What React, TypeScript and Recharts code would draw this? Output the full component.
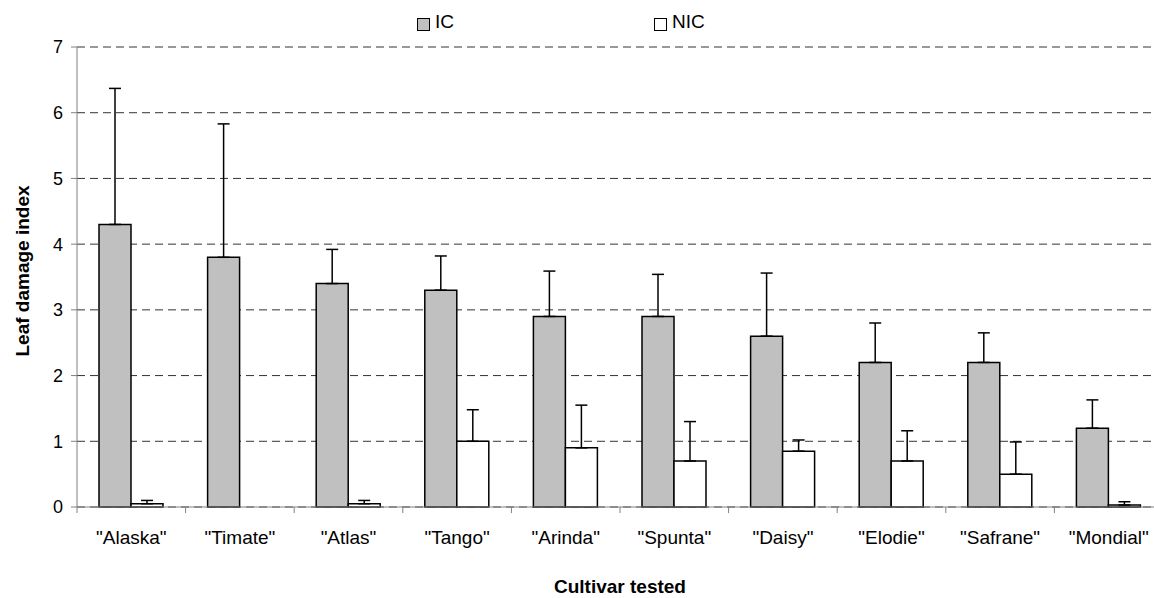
import React from "react";
import {
  BarChart,
  Bar,
  XAxis,
  YAxis,
  CartesianGrid,
  ErrorBar,
  Label,
} from "recharts";

const cultivars = [
  '"Alaska"',
  '"Timate"',
  '"Atlas"',
  '"Tango"',
  '"Arinda"',
  '"Spunta"',
  '"Daisy"',
  '"Elodie"',
  '"Safrane"',
  '"Mondial"',
];
const icMeans = [4.3, 3.8, 3.4, 3.3, 2.9, 2.9, 2.6, 2.2, 2.2, 1.2];
const icErrors = [2.07, 2.03, 0.52, 0.52, 0.69, 0.64, 0.96, 0.6, 0.45, 0.43];
const nicMeans = [0.05, 0, 0.05, 1.0, 0.9, 0.7, 0.85, 0.7, 0.5, 0.03];
const nicErrors = [0.05, 0, 0.05, 0.48, 0.65, 0.6, 0.17, 0.46, 0.49, 0.05];
const yTicks = [0, 1, 2, 3, 4, 5, 6, 7];

const rows = cultivars.map((name, i) => ({
  name,
  ic: icMeans[i],
  icErr: [0, icErrors[i]],
  nic: nicMeans[i],
  nicErr: [0, nicErrors[i]],
}));

const FONT = "'Liberation Sans', Arial, sans-serif";
const TICK_SIZE = 6;
const TICK_MARGIN = 18;

function CultivarTick(props: any) {
  const { x, y, payload } = props;
  const half = payload && payload.offset ? payload.offset : 54.3;
  const axisY = y - TICK_SIZE - TICK_MARGIN;
  return (
    <g>
      <line x1={x - half} x2={x - half} y1={axisY} y2={axisY + TICK_SIZE} stroke="#808080" />
      <text x={x} y={y} dy="0.71em" textAnchor="middle" fontSize={19} fontFamily={FONT} fill="#000">
        {payload.value}
      </text>
    </g>
  );
}

function YTitle(props: any) {
  const vb = props.viewBox || { x: 0, y: 47, width: 77, height: 460 };
  const cy = vb.y + vb.height / 2 - 6;
  return (
    <text
      x={22}
      y={cy}
      transform={`rotate(-90, 22, ${cy})`}
      textAnchor="middle"
      dominantBaseline="central"
      fontSize={19}
      fontWeight="bold"
      fontFamily={FONT}
      fill="#000"
    >
      Leaf damage index
    </text>
  );
}

function XTitle(props: any) {
  const vb = props.viewBox || { x: 77, y: 507, width: 1086, height: 91 };
  return (
    <text
      x={vb.x + vb.width / 2}
      y={593}
      textAnchor="middle"
      fontSize={19}
      fontWeight="bold"
      fontFamily={FONT}
      fill="#000"
    >
      Cultivar tested
    </text>
  );
}

function LegendItem({ label, fill, left }: { label: string; fill: string; left: number }) {
  return (
    <div style={{ position: "absolute", left, top: 12, display: "flex", alignItems: "center" }}>
      <span
        style={{
          display: "inline-block",
          width: 11,
          height: 11,
          background: fill,
          border: "1px solid #000",
          marginTop: 4,
          marginRight: 5,
        }}
      />
      <span style={{ fontSize: 19, fontFamily: FONT, color: "#000", lineHeight: "20px" }}>{label}</span>
    </div>
  );
}

export default function App() {
  return (
    <div style={{ position: "relative", width: 1154, height: 598, overflow: "hidden", background: "#fff" }}>
      <style>{"body{margin:0}"}</style>
      <BarChart
        width={1163}
        height={598}
        data={rows}
        margin={{ top: 47, right: 0, bottom: 0, left: 0 }}
        barCategoryGap={22}
        barGap={0}
      >
        <CartesianGrid vertical={false} stroke="#333" strokeDasharray="8 5" />
        <XAxis
          dataKey="name"
          height={91}
          axisLine={{ stroke: "#808080" }}
          tickLine={false}
          tickSize={TICK_SIZE}
          tickMargin={TICK_MARGIN}
          tick={<CultivarTick />}
          interval={0}
        >
          <Label content={<XTitle />} />
        </XAxis>
        <YAxis
          width={77}
          domain={[0, 7]}
          ticks={yTicks}
          interval={0}
          axisLine={{ stroke: "#808080" }}
          tickLine={{ stroke: "#808080" }}
          tickSize={TICK_SIZE}
          tickMargin={8}
          tick={{ fontSize: 18, fontFamily: FONT, fill: "#000" }}
        >
          <Label content={<YTitle />} />
        </YAxis>
        <Bar dataKey="ic" name="IC" fill="#C0C0C0" stroke="#000" strokeWidth={1.5} isAnimationActive={false}>
          <ErrorBar dataKey="icErr" direction="y" width={6} stroke="#000" strokeWidth={1.5} />
        </Bar>
        <Bar dataKey="nic" name="NIC" fill="#FFFFFF" stroke="#000" strokeWidth={1.5} isAnimationActive={false}>
          <ErrorBar dataKey="nicErr" direction="y" width={6} stroke="#000" strokeWidth={1.5} />
        </Bar>
      </BarChart>
      <LegendItem label="IC" fill="#C0C0C0" left={417} />
      <LegendItem label="NIC" fill="#FFFFFF" left={654} />
    </div>
  );
}
